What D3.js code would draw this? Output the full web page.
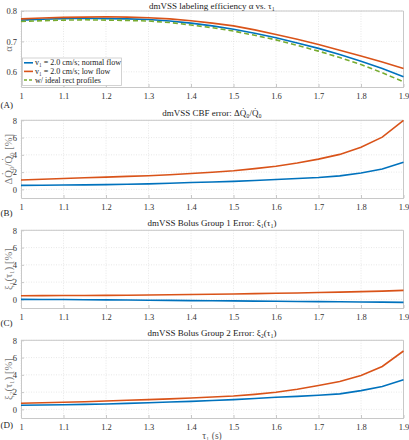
<!DOCTYPE html>
<html><head><meta charset="utf-8">
<script src="https://cdn.jsdelivr.net/npm/d3@7"></script>
<style>body{margin:0;background:#fff}svg{display:block}text{font-family:"Liberation Serif","DejaVu Serif",serif}</style>
</head><body>
<script>
const tau = [1.00,1.05,1.10,1.15,1.20,1.25,1.30,1.35,1.40,1.45,1.50,1.55,1.60,1.65,1.70,1.75,1.80,1.85,1.90];
const xTicks = [1,1.1,1.2,1.3,1.4,1.5,1.6,1.7,1.8,1.9];
const xTickLabels = ["1","1.1","1.2","1.3","1.4","1.5","1.6","1.7","1.8","1.9"];

const alphaNormal = [.770,.773,.775,.776,.775,.774,.772,.767,.760,.751,.740,.727,.712,.695,.677,.657,.635,.611,.584];
const alphaLow    = [.774,.777,.779,.780,.781,.780,.778,.774,.768,.760,.751,.738,.723,.707,.690,.671,.652,.632,.611];
const alphaRect   = [.766,.768,.770,.771,.770,.769,.767,.762,.754,.745,.734,.720,.705,.687,.668,.647,.624,.597,.567];

const cbfNormal = [0.46,0.48,0.50,0.52,0.55,0.59,0.64,0.71,0.79,0.86,0.93,1.03,1.15,1.26,1.38,1.56,1.90,2.36,3.13];
const cbfLow    = [1.08,1.17,1.26,1.34,1.42,1.50,1.58,1.70,1.83,1.98,2.15,2.40,2.68,3.05,3.50,4.05,4.87,6.05,8.00];

const xi1Normal = [0.00,-0.01,-0.02,-0.04,-0.06,-0.08,-0.10,-0.12,-0.14,-0.16,-0.18,-0.20,-0.22,-0.24,-0.26,-0.28,-0.30,-0.32,-0.35];
const xi1Low    = [0.42,0.43,0.44,0.45,0.46,0.48,0.50,0.53,0.56,0.59,0.62,0.66,0.70,0.74,0.79,0.84,0.90,0.96,1.04];

const xi2Normal = [0.47,0.50,0.54,0.58,0.62,0.69,0.77,0.85,0.93,1.03,1.13,1.26,1.40,1.51,1.63,1.79,2.17,2.64,3.42];
const xi2Low    = [0.70,0.76,0.82,0.89,0.97,1.05,1.13,1.22,1.32,1.43,1.55,1.74,1.98,2.33,2.76,3.22,3.92,4.97,6.76];

const alphaTicks = [0.6,0.7,0.8];
const pctTicks = [0,2,4,6,8];
const legendLabels = ["v\u2081 = 2.0 cm/s; normal flow","v\u2081 = 2.0 cm/s; low flow","w/ ideal rect profiles"];

const BLUE="#0072BD", ORANGE="#D95319", GREEN="#77AC30";
const W=409,H=440;
const svg=d3.select("body").append("svg").attr("width",W).attr("height",H);
const x=d3.scaleLinear().domain([1,1.9]).range([21,403.5]);

const panels=[
 {top:11,bot:87,dom:[0.55,0.8],ticks:alphaTicks,fmt:d3.format(".1f"),title:"dmVSS labeling efficiency α vs. τ\u2081",tY:8.5,ylab:"α",lab:"(A)",labY:107.5,
  series:[{v:alphaNormal,c:BLUE},{v:alphaLow,c:ORANGE},{v:alphaRect,c:GREEN,dash:"5,3"}]},
 {top:120.3,bot:198,dom:[-1,8],ticks:pctTicks,fmt:d3.format("d"),title:"dmVSS CBF error: ΔQ\u0307\u2080/Q\u0307\u2080",tY:116,ylab:"ΔQ\u0307\u2080/Q\u0307\u2080 [%]",lab:"(B)",labY:215.5,
  series:[{v:cbfNormal,c:BLUE},{v:cbfLow,c:ORANGE}]},
 {top:230.3,bot:308,dom:[-1,8],ticks:pctTicks,fmt:d3.format("d"),title:"dmVSS Bolus Group 1 Error: ξ\u2081(τ\u2081)",tY:226,ylab:"ξ\u2081(τ\u2081) [%]",lab:"(C)",labY:325.5,
  series:[{v:xi1Normal,c:BLUE},{v:xi1Low,c:ORANGE}]},
 {top:340.3,bot:418,dom:[-1,8],ticks:pctTicks,fmt:d3.format("d"),title:"dmVSS Bolus Group 2 Error: ξ\u2082(τ\u2081)",tY:336,ylab:"ξ\u2082(τ\u2081) [%]",lab:"(D)",labY:427.5,
  series:[{v:xi2Normal,c:BLUE},{v:xi2Low,c:ORANGE}]}
];

panels.forEach((p,pi)=>{
  const y=d3.scaleLinear().domain(p.dom).range([p.bot,p.top]);
  const g=svg.append("g");
  g.selectAll(".gx").data(xTicks).enter().append("line")
   .attr("x1",d=>x(d)).attr("x2",d=>x(d)).attr("y1",p.top).attr("y2",p.bot)
   .attr("stroke","#d8d8d8").attr("stroke-width",0.6).attr("stroke-dasharray","1,1.5");
  g.selectAll(".gy").data(p.ticks).enter().append("line")
   .attr("x1",x.range()[0]).attr("x2",x.range()[1]).attr("y1",d=>y(d)).attr("y2",d=>y(d))
   .attr("stroke","#d8d8d8").attr("stroke-width",0.6).attr("stroke-dasharray","1,1.5");
  const ax=d3.axisBottom(x).tickValues(xTicks).tickFormat((d,i)=>xTickLabels[i]).tickSizeInner(-3).tickSizeOuter(0).tickPadding(6);
  const gxA=g.append("g").attr("transform",`translate(0,${p.bot})`).call(ax);
  gxA.select(".domain").attr("stroke","#c8c8c8");
  gxA.selectAll(".tick line").attr("stroke","#c8c8c8");
  gxA.selectAll("text").attr("font-size",8.5).attr("fill","#333").attr("font-family","Liberation Serif");
  const ay=d3.axisLeft(y).tickValues(p.ticks).tickFormat(p.fmt).tickSizeInner(-3).tickSizeOuter(0).tickPadding(4);
  const gyA=g.append("g").attr("transform",`translate(${x.range()[0]},0)`).call(ay);
  gyA.select(".domain").attr("stroke","#c8c8c8");
  gyA.selectAll(".tick line").attr("stroke","#c8c8c8");
  gyA.selectAll("text").attr("font-size",8.5).attr("fill","#333").attr("font-family","Liberation Serif");
  g.append("line").attr("x1",x.range()[0]).attr("x2",x.range()[1]).attr("y1",p.top).attr("y2",p.top).attr("stroke","#c8c8c8");
  g.append("line").attr("x1",x.range()[1]).attr("x2",x.range()[1]).attr("y1",p.top).attr("y2",p.bot).attr("stroke","#c8c8c8");
  const line=d3.line().x((d,i)=>x(tau[i])).y(d=>y(d));
  p.series.forEach(s=>{
    g.append("path").datum(s.v).attr("d",line).attr("fill","none").attr("stroke",s.c)
     .attr("stroke-width",1.6).attr("stroke-dasharray",s.dash||null);
  });
  g.append("text").attr("x",212).attr("y",p.tY).attr("text-anchor","middle").attr("font-size",9).attr("fill","#222").text(p.title);
  g.append("text").attr("transform",`translate(8,${(p.top+p.bot)/2}) rotate(-90)`).attr("text-anchor","middle")
   .attr("dominant-baseline","central").attr("font-size",10.5).attr("fill","#777").text(p.ylab);
  g.append("text").attr("x",0.5).attr("y",p.labY).attr("font-size",9).attr("fill","#222").text(p.lab);
  if(pi===0){
    const lg=svg.append("g");
    lg.append("rect").attr("x",22.5).attr("y",58).attr("width",99).attr("height",27.5).attr("fill","#fff").attr("stroke","#c8c8c8").attr("stroke-width",0.8);
    p.series.forEach((s,i)=>{
      const cy=62.8+i*8.6;
      lg.append("line").attr("x1",24).attr("x2",33).attr("y1",cy).attr("y2",cy).attr("stroke",s.c).attr("stroke-width",1.6).attr("stroke-dasharray",s.dash?"3,2":null);
      lg.append("text").attr("x",35).attr("y",cy).attr("dominant-baseline","central").attr("font-size",8).attr("fill","#222").text(legendLabels[i]);
    });
  }
});
svg.append("text").attr("x",212).attr("y",438.5).attr("text-anchor","middle").attr("font-size",9.5).attr("fill","#555").text("τ\u2081 (s)");
</script>
</body></html>
